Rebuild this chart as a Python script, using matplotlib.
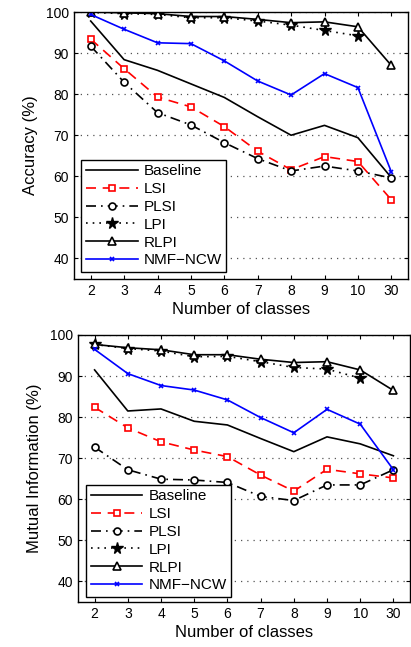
import matplotlib
matplotlib.use("Agg")
import matplotlib.pyplot as plt
import numpy as np

plt.rcParams['font.family'] = ['Liberation Sans', 'DejaVu Sans']

classes = ["2", "3", "4", "5", "6", "7", "8", "9", "10", "30"]

acc_baseline = [97.8, 88.4, 85.8, 82.5, 79.2, 74.5, 70.0, 72.4, 69.4, 59.7]
acc_lsi = [93.4, 86.2, 79.3, 76.9, 72.1, 66.1, 61.6, 64.8, 63.6, 54.3]
acc_plsi = [91.7, 82.9, 75.5, 72.5, 68.2, 64.3, 61.3, 62.5, 61.3, 59.6]
acc_lpi = [99.9, 99.6, 99.4, 98.6, 98.6, 97.8, 96.8, 95.5, 94.2, np.nan]
acc_rlpi = [100.0, 99.8, 99.6, 98.9, 98.9, 98.2, 97.4, 97.6, 96.4, 87.0]
acc_nmf = [99.4, 95.8, 92.5, 92.3, 88.1, 83.2, 79.8, 85.0, 81.6, 61.1]

mi_baseline = [91.5, 81.5, 82.0, 79.0, 78.1, 74.8, 71.6, 75.2, 73.5, 70.6]
mi_lsi = [82.4, 77.4, 74.0, 72.0, 70.4, 65.9, 62.0, 67.3, 66.2, 65.2]
mi_plsi = [72.7, 67.2, 64.9, 64.7, 64.1, 60.7, 59.7, 63.5, 63.5, 67.2]
mi_lpi = [97.7, 96.7, 96.1, 94.7, 94.8, 93.5, 92.1, 91.7, 89.5, np.nan]
mi_rlpi = [97.7, 96.9, 96.4, 95.2, 95.2, 94.1, 93.3, 93.5, 91.5, 86.5]
mi_nmf = [96.5, 90.6, 87.7, 86.6, 84.2, 79.9, 76.2, 81.9, 78.3, 67.2]

yticks = [40, 50, 60, 70, 80, 90, 100]

fig = plt.figure(figsize=(4.11, 6.47), dpi=100)
W, H = 411, 647

def make_ax(l, r, t, b):
    return fig.add_axes([l / W, 1 - b / H, (r - l) / W, (b - t) / H])

ax1 = make_ax(74, 408, 12, 279)
ax2 = make_ax(78, 410, 335, 602)

def draw(ax, data, ylabel, anchor):
    x = np.arange(1, len(classes) + 1)
    b, lsi, plsi, lpi, rlpi, nmf = data
    lw = 1.2
    ax.plot(x, b, color='black', linestyle='-', lw=lw, label='Baseline')
    ax.plot(x, lsi, color='red', linestyle=(0, (6, 4)), lw=lw, marker='s',
            ms=5, mfc='white', mec='red', mew=1.2, label='LSI')
    ax.plot(x, plsi, color='black', linestyle=(0, (6, 3, 1, 3)), lw=lw, marker='o',
            ms=5, mfc='white', mec='black', mew=1.2, label='PLSI')
    ax.plot(x, lpi, color='black', linestyle=(0, (1, 3)), lw=lw, marker='*',
            ms=8.5, mfc='black', mec='black', label='LPI')
    ax.plot(x, rlpi, color='black', linestyle='-', lw=lw, marker='^',
            ms=6, mfc='white', mec='black', mew=1.2, label='RLPI')
    ax.plot(x, nmf, color='blue', linestyle='-', lw=lw, marker='x',
            ms=3.5, mew=1.2, label='NMF\u2212NCW')
    ax.set_xlim(0.5, len(classes) + 0.5)
    ax.set_ylim(35, 100)
    ax.set_xticks(x)
    ax.set_xticklabels(classes)
    ax.set_yticks(yticks)
    ax.tick_params(direction='in', top=True, right=True, labelsize=10, length=3, width=0.8)
    ax.yaxis.grid(True, linestyle=(0, (1, 4)), color='#555555', lw=0.9)
    ax.set_axisbelow(True)
    for s in ax.spines.values():
        s.set_linewidth(1.0)
    ax.set_xlabel('Number of classes', fontsize=12, labelpad=3)
    ax.set_ylabel(ylabel, fontsize=12, labelpad=6)
    leg = ax.legend(loc='lower left', bbox_to_anchor=anchor, borderaxespad=0,
                    fontsize=11, handlelength=3.4, labelspacing=0.25,
                    handletextpad=0.4, borderpad=0.3, fancybox=False,
                    framealpha=1, edgecolor='black', numpoints=1)
    leg.get_frame().set_linewidth(1.0)

draw(ax1, [acc_baseline, acc_lsi, acc_plsi, acc_lpi, acc_rlpi, acc_nmf],
     'Accuracy (%)', (0.021, 0.026))
draw(ax2, [mi_baseline, mi_lsi, mi_plsi, mi_lpi, mi_rlpi, mi_nmf],
     'Mutual Information (%)', (0.024, 0.019))

fig.savefig('out.png', dpi=100)
